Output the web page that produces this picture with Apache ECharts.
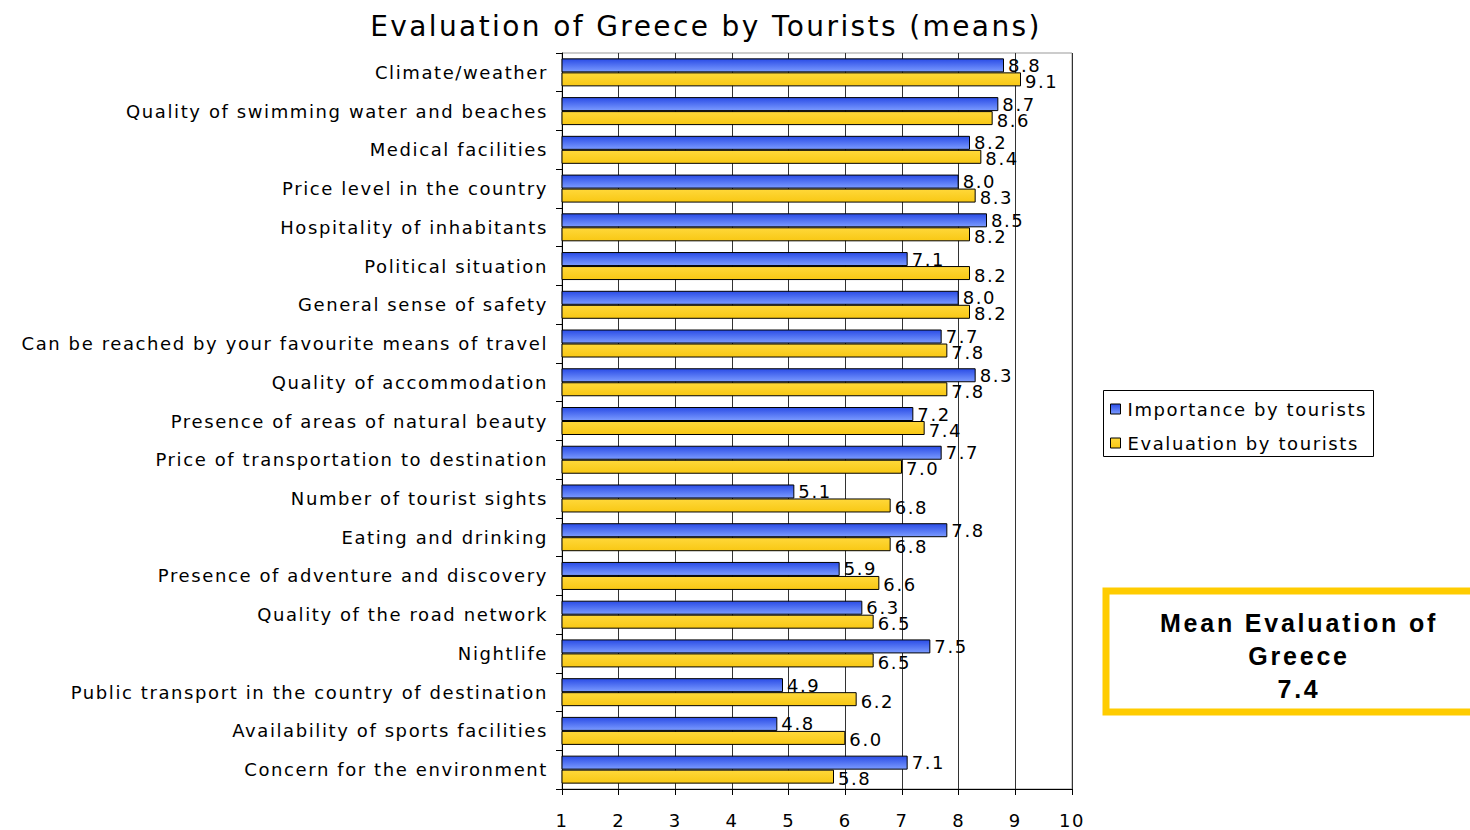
<!DOCTYPE html>
<html><head><meta charset="utf-8">
<script src="https://cdn.jsdelivr.net/npm/echarts@6/dist/echarts.min.js"></script>
<style>
html,body{margin:0;padding:0;background:#fff}
#c{width:1470px;height:830px}
#c svg text{letter-spacing:1.6px}
#c svg text[style*="28px"]{letter-spacing:2.4px}
#c svg text[style*="bold"]{letter-spacing:2.8px}
</style>
</head><body><div id="c"></div>
<script>
const categories = [
  "Climate/weather",
  "Quality of swimming water and beaches",
  "Medical facilities",
  "Price level in the country",
  "Hospitality of inhabitants",
  "Political situation",
  "General sense of safety",
  "Can be reached by your favourite means of travel",
  "Quality of accommodation",
  "Presence of areas of natural beauty",
  "Price of transportation to destination",
  "Number of tourist sights",
  "Eating and drinking",
  "Presence of adventure and discovery",
  "Quality of the road network",
  "Nightlife",
  "Public transport in the country of destination",
  "Availability of sports facilities",
  "Concern for the environment"
];
const importance = [8.8, 8.7, 8.2, 8.0, 8.5, 7.1, 8.0, 7.7, 8.3, 7.2, 7.7, 5.1, 7.8, 5.9, 6.3, 7.5, 4.9, 4.8, 7.1];
const evaluation = [9.1, 8.6, 8.4, 8.3, 8.2, 8.2, 8.2, 7.8, 7.8, 7.4, 7.0, 6.8, 6.8, 6.6, 6.5, 6.5, 6.2, 6.0, 5.8];
const seriesNames = ["Importance by tourists", "Evaluation by tourists"];
const meanLines = ["Mean Evaluation of", "Greece", "7.4"];

const FONT = "DejaVu Sans";
const chart = echarts.init(document.getElementById('c'), null, {renderer: 'svg'});
const lbl = (dy) => ({
  show: true, position: 'right', distance: 4, offset: [0, dy],
  color: '#000', fontFamily: FONT, fontSize: 18,
  formatter: p => p.value.toFixed(1)
});
chart.setOption({
  backgroundColor: '#fff',
  animation: false,
  title: {
    text: "Evaluation of Greece by Tourists (means)",
    left: 701, top: 7, textAlign: 'center',
    textStyle: {fontFamily: FONT, fontSize: 28, fontWeight: 'normal', color: '#000'}
  },
  legend: {
    orient: 'vertical', left: 1103, top: 390,
    data: seriesNames,
    icon: 'rect', itemWidth: 10, itemHeight: 10, itemGap: 16,
    borderWidth: 0, padding: [10, 6, 9, 7],
    textStyle: {fontFamily: FONT, fontSize: 18, color: '#000', padding: [0, 0, 0, 2]},
    itemStyle: {borderColor: '#000', borderWidth: 1}
  },
  grid: {left: 562, right: 398, top: 53, bottom: 41, show: true, borderColor: '#999', borderWidth: 1},
  xAxis: {
    type: 'value', min: 1, max: 10, interval: 1,
    axisLine: {show: true, lineStyle: {color: '#000'}},
    axisTick: {show: true, length: 6, lineStyle: {color: '#000'}},
    axisLabel: {fontFamily: FONT, fontSize: 18, color: '#000', margin: 22},
    splitLine: {show: true, lineStyle: {color: '#333', width: 1}}
  },
  yAxis: {
    type: 'category', data: categories, inverse: true,
    axisLine: {show: true, lineStyle: {color: '#000'}},
    axisTick: {show: true, length: 6, inside: false, lineStyle: {color: '#000'}},
    axisLabel: {fontFamily: FONT, fontSize: 18, color: '#000', margin: 14, padding: [3, 0, 0, 0]},
    splitLine: {show: false}
  },
  series: [
    {
      name: seriesNames[0], type: 'bar', data: importance, clip: true,
      barWidth: 14, barGap: '0%', barCategoryGap: '27%',
      itemStyle: {
        color: new echarts.graphic.LinearGradient(0, 0, 0, 1, [
          {offset: 0, color: '#2a4ce6'}, {offset: 1, color: '#7b9bff'}]),
        borderColor: '#000', borderWidth: 1
      },
      label: lbl(0)
    },
    {
      name: seriesNames[1], type: 'bar', data: evaluation, clip: true,
      barWidth: 14, barGap: '0%', barCategoryGap: '27%',
      itemStyle: {
        color: new echarts.graphic.LinearGradient(0, 0, 0, 1, [
          {offset: 0, color: '#ffd83a'}, {offset: 1, color: '#f8c814'}]),
        borderColor: '#000', borderWidth: 1
      },
      label: lbl(2)
    }
  ],
  graphic: [
    {
      type: 'rect', x: 1103.5, y: 390.5, silent: true,
      shape: {x: 0, y: 0, width: 270, height: 66},
      style: {fill: 'none', stroke: '#000', lineWidth: 1}
    },
    {
      type: 'rect', x: 1106, y: 591,
      shape: {x: 0, y: 0, width: 380, height: 121},
      style: {fill: '#fff', stroke: '#ffcc00', lineWidth: 7}
    },
    {
      type: 'text', x: 1299, y: 606,
      style: {
        text: meanLines.join('\n'), textAlign: 'center', textVerticalAlign: 'top',
        font: 'bold 25px "Liberation Sans", Arial', lineHeight: 33, fill: '#000'
      }
    }
  ]
});
</script></body></html>
